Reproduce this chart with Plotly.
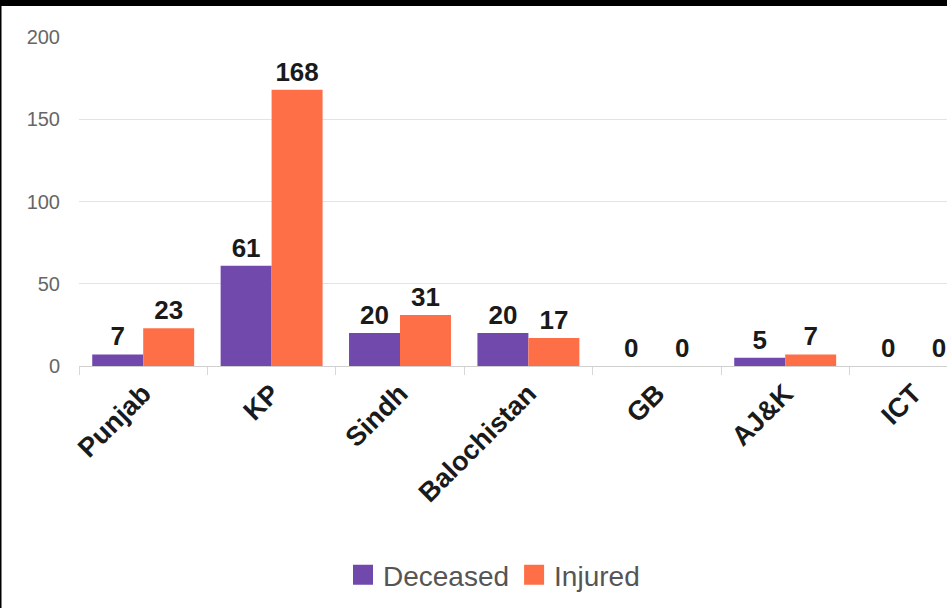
import plotly.graph_objects as go

regions = ["Punjab", "KP", "Sindh", "Balochistan", "GB", "AJ&K", "ICT"]
deceased = [7, 61, 20, 20, 0, 5, 0]
injured = [23, 168, 31, 17, 0, 7, 0]
y_ticks = [0, 50, 100, 150, 200]

PURPLE = "#7149ad"
ORANGE = "#ff6f47"

W, H = 947, 608
ML, MT, MB = 79, 37, 242
plot_w = W - ML
plot_h = H - MT - MB
x_max = -0.5 + plot_w / 128.4

fig = go.Figure()
for name, vals, col in [("Deceased", deceased, PURPLE), ("Injured", injured, ORANGE)]:
    fig.add_trace(go.Bar(
        x=regions, y=vals, name=name, marker=dict(color=col, line=dict(width=0)),
        text=[str(v) for v in vals], textposition="outside", cliponaxis=False,
        constraintext="none",
        textfont=dict(family="Liberation Sans, Arial", size=26, color="#1a1a1a", weight="bold"),
        showlegend=False,
    ))
for name, col in [("Deceased", PURPLE), ("Injured", ORANGE)]:
    fig.add_trace(go.Scatter(
        x=[None], y=[None], mode="markers", name=name,
        marker=dict(symbol="square", size=16, color=col, line=dict(color=col, width=4)),
    ))

def px_x(p):
    return (p - ML) / plot_w

def px_y(p):
    return (H - MB - p) / plot_h

fig.update_layout(
    width=W, height=H,
    margin=dict(l=ML, r=0, t=MT, b=MB, autoexpand=False),
    paper_bgcolor="white", plot_bgcolor="white",
    barmode="group", bargap=0.206, bargroupgap=0,
    font=dict(family="Liberation Sans, Arial"),
    xaxis=dict(
        range=[-0.5, x_max], tickangle=-45, automargin=False,
        tickfont=dict(size=27, color="#1a1a1a", weight="bold"),
        showline=True, linecolor="#d0d0d0", linewidth=1,
        ticks="outside", tickson="boundaries", ticklen=8, tickcolor="#d8d8d8",
        showgrid=False,
    ),
    yaxis=dict(
        range=[0, 200], tickvals=y_ticks, automargin=False,
        tickfont=dict(size=20, color="#666666"),
        showgrid=True, gridcolor="#e3e3e3", gridwidth=1,
        zeroline=False, showline=False, ticklabelstandoff=18,
    ),
    legend=dict(
        orientation="h", x=px_x(494), xanchor="center", y=px_y(575), yanchor="middle",
        font=dict(size=28, color="#555555"), itemclick=False,
    ),
    shapes=[
        dict(type="rect", xref="paper", yref="paper", x0=px_x(0), x1=px_x(W), y0=px_y(0), y1=px_y(6),
             fillcolor="black", line=dict(width=0), layer="above"),
        dict(type="rect", xref="paper", yref="paper", x0=px_x(0), x1=px_x(1.5), y0=px_y(0), y1=px_y(H),
             fillcolor="black", line=dict(width=0), layer="above"),
    ],
)

fig.write_html("out.html")
